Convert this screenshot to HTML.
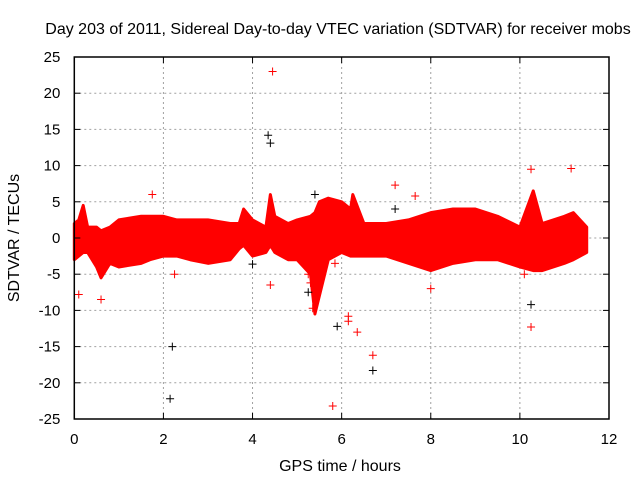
<!DOCTYPE html>
<html><head><meta charset="utf-8"><style>
body{margin:0;background:#fff;}
svg{display:block;font-family:"Liberation Sans",sans-serif;}
</style></head><body>
<svg id="chart" width="640" height="480" viewBox="0 0 640 480" xmlns="http://www.w3.org/2000/svg">
<rect width="640" height="480" fill="#fff"/>
<text x="338" y="34" font-size="16" text-anchor="middle" fill="#000">Day 203 of 2011, Sidereal Day-to-day VTEC variation (SDTVAR) for receiver mobs</text>
<text x="340" y="471" font-size="16" text-anchor="middle">GPS time / hours</text>
<text transform="translate(19,238) rotate(-90)" font-size="16" text-anchor="middle">SDTVAR / TECUs</text>
<g id="grid"></g>
<g id="band"></g>
<g id="pts"></g>
<g id="axes"></g>
</svg>
<script>
const xTicks=[0,2,4,6,8,10,12];
const yTicks=[-25,-20,-15,-10,-5,0,5,10,15,20,25];
const bandTimes=[0,0.1,0.2,0.3,0.5,0.6,0.8,1.0,1.5,1.7,2.0,2.3,2.6,3.0,3.5,3.7,3.8,4.0,4.3,4.4,4.5,4.8,5.0,5.3,5.4,5.5,5.7,6.0,6.2,6.25,6.5,7.0,7.5,8.0,8.5,9.0,9.5,10.0,10.3,10.5,11.0,11.2,11.5];
const bandUpper=[2,2.5,4.5,1.5,1.5,1,1.5,2.5,3,3,3,2.5,2.5,2.5,2,2,4,2.5,1.5,6,3,2,2.5,3,3.5,5,5.5,5,4,6,2,2,2.5,3.5,4,4,3,1.5,6.5,2,3,3.5,1.5];
const bandLower=[-3,-2.5,-2,-2,-4,-5.5,-3.5,-4,-3.5,-3,-2.5,-2.5,-3,-3.5,-3,-1.5,-1,-2.5,-2,-1,-2,-3,-3,-5,-10.5,-8,-3,-2,-2.5,-2.5,-2.5,-2.5,-3.5,-4.5,-3.5,-3,-3,-4,-4.5,-4.5,-3.5,-3,-2];
const redT=[0.1,0.6,1.75,2.25,4.45,4.4,5.25,5.3,5.35,5.85,6.15,6.15,6.35,6.7,5.8,7.2,7.65,8,10.25,10.25,11.15,10.1];
const redV=[-7.8,-8.5,6,-5,23,-6.5,-5,-6.2,-9.7,-3.5,-10.8,-11.5,-13,-16.2,-23.2,7.3,5.8,-7,9.5,-12.3,9.6,-5];
const blackT=[4.35,4.4,2.2,2.15,5.25,5.4,5.9,7.2,10.25,4.0,6.7];
const blackV=[14.2,13.1,-15,-22.2,-7.5,6,-12.2,4,-9.2,-3.6,-18.3];
const L=74.3,R=609,T=57,B=419;
const xs=v=>L+v/12*(R-L);
const ys=v=>T+(25-v)/50*(B-T);
const NS='http://www.w3.org/2000/svg';
function mk(tag,attrs,parent){const e=document.createElementNS(NS,tag);for(const k in attrs)e.setAttribute(k,attrs[k]);parent.appendChild(e);return e;}
const grid=document.getElementById('grid'),axes=document.getElementById('axes');
xTicks.forEach(t=>{
  if(t>0&&t<12){const g=mk('line',{x1:xs(t),x2:xs(t),y1:T,y2:B,stroke:'#a0a0a0','stroke-dasharray':'2,3'},grid);
  
  }
  const tk=mk('line',{x1:xs(t),x2:xs(t),y1:B,y2:B-6,stroke:'#000'},axes);
  
  
  const tk2=mk('line',{x1:xs(t),x2:xs(t),y1:T,y2:T+6,stroke:'#000'},axes);
  
  
  const tx=mk('text',{x:xs(t),y:B+25,'font-size':15,'text-anchor':'middle'},axes);tx.textContent=t;
  
  
});
yTicks.forEach(t=>{
  if(t>-25&&t<25){const g=mk('line',{x1:L,x2:R,y1:ys(t),y2:ys(t),stroke:'#a0a0a0','stroke-dasharray':'2,3'},grid);
  
  }
  const tk=mk('line',{x1:L,x2:L+6,y1:ys(t),y2:ys(t),stroke:'#000'},axes);
  
  
  const tk2=mk('line',{x1:R,x2:R-6,y1:ys(t),y2:ys(t),stroke:'#000'},axes);
  
  
  const tx=mk('text',{x:L-14,y:ys(t)+5,'font-size':15,'text-anchor':'end'},axes);tx.textContent=t;
  
  
});
const fr=mk('rect',{x:L,y:T,width:R-L,height:B-T,fill:'none',stroke:'#000','stroke-width':1.5},axes);


let pts=bandTimes.map((t,i)=>xs(t)+','+ys(bandUpper[i]));
for(let i=bandTimes.length-1;i>=0;i--)pts.push(xs(bandTimes[i])+','+ys(bandLower[i]));
const poly=mk('polygon',{points:pts.join(' '),fill:'#ff0000',stroke:'#ff0000','stroke-width':3,'stroke-linejoin':'round'},document.getElementById('band'));


const pg=document.getElementById('pts');
function plus(t,v,c){const x=xs(t),y=ys(v);
  const p=mk('path',{d:`M${x-4},${y}H${x+4}M${x},${y-4}V${y+4}`,stroke:c,'stroke-width':1},pg);
  
  }
redT.forEach((t,i)=>plus(t,redV[i],'#ff0000'));
blackT.forEach((t,i)=>plus(t,blackV[i],'#000'));
</script>
</body></html>
